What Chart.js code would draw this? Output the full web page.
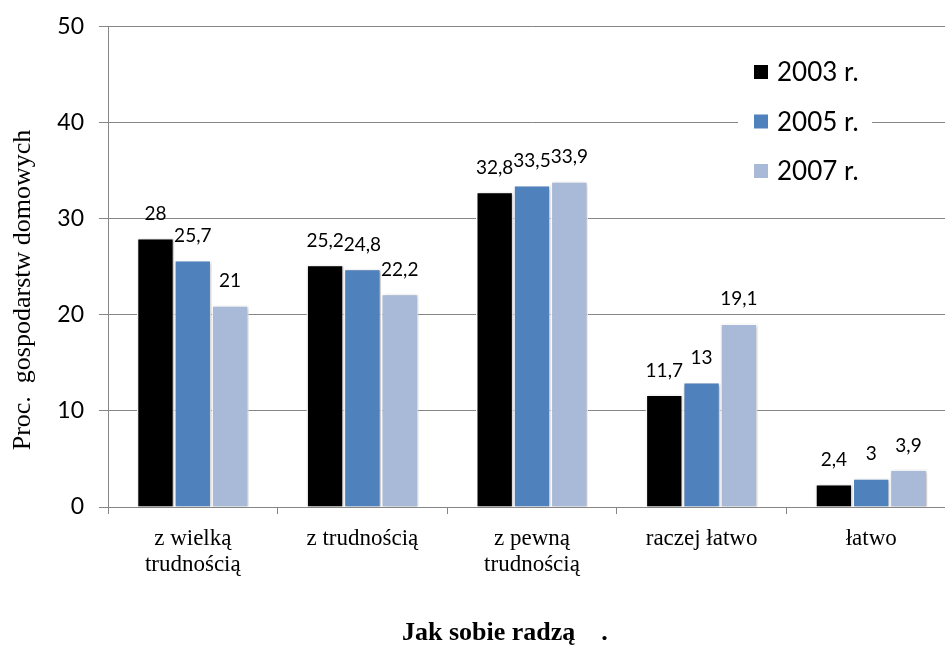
<!DOCTYPE html>
<html lang="pl">
<head>
<meta charset="utf-8">
<title>Jak sobie radzą</title>
<script src="https://cdn.jsdelivr.net/npm/chart.js@4.4.1/dist/chart.umd.min.js"></script>
<style>
    html, body { margin: 0; padding: 0; background: #fff; overflow: hidden; }
    #chart { display: block; }
</style>
</head>
<body>
<canvas id="chart" width="956" height="646"></canvas>
<script>
// Dane - odsetek gospodarstw domowych wg oceny radzenia sobie
const categories = [['z wielką', 'trudnością'], 'z trudnością', ['z pewną', 'trudnością'], 'raczej łatwo', 'łatwo'];
const years = ['2003 r.', '2005 r.', '2007 r.'];
const values2003 = [28, 25.2, 32.8, 11.7, 2.4];
const values2005 = [25.7, 24.8, 33.5, 13, 3];
const values2007 = [21, 22.2, 33.9, 19.1, 3.9];
const yTicks = [0, 10, 20, 30, 40, 50];

const colors = ['#000000', '#4f81bd', '#a9bad8'];
const gridColor = '#868686';
const sansFont = 'Lato, "Open Sans", sans-serif';
const serifFont = '"Liberation Serif", "Times New Roman", serif';

// Format liczby z przecinkiem dziesiętnym
function formatValue(v) {
    return String(v).replace('.', ',');
}

// Lekki cień pod słupkami
const barShadow = {
    id: 'barShadow',
    beforeDatasetsDraw(chart) {
        const ctx = chart.ctx;
        ctx.save();
        ctx.shadowColor = 'rgba(0, 0, 0, 0.3)';
        ctx.shadowBlur = 3;
        ctx.shadowOffsetX = 1;
        ctx.shadowOffsetY = 1;
    },
    afterDatasetsDraw(chart) {
        chart.ctx.restore();
    }
};

// Etykiety wartości nad słupkami
const valueLabels = {
    id: 'valueLabels',
    afterDatasetsDraw(chart) {
        const ctx = chart.ctx;
        ctx.save();
        ctx.font = '19px ' + sansFont;
        ctx.fillStyle = '#000';
        ctx.textAlign = 'center';
        ctx.textBaseline = 'alphabetic';
        chart.data.datasets.forEach((ds, i) => {
            chart.getDatasetMeta(i).data.forEach((bar, j) => {
                ctx.fillText(formatValue(ds.data[j]), bar.x, bar.y - 18);
            });
        });
        ctx.restore();
    }
};

// Legenda w prawym górnym rogu na białym tle
const boxLegend = {
    id: 'boxLegend',
    afterDraw(chart) {
        const ctx = chart.ctx;
        const x0 = 738, y0 = 48;
        ctx.save();
        ctx.fillStyle = '#fff';
        ctx.fillRect(x0, y0, 134, 148);
        ctx.font = '26px ' + sansFont;
        ctx.textBaseline = 'middle';
        chart.data.datasets.forEach((ds, i) => {
            const cy = 72 + i * 49.5;
            ctx.fillStyle = ds.backgroundColor;
            ctx.fillRect(754, cy - 7, 14, 14);
            ctx.fillStyle = '#000';
            ctx.fillText(ds.label, 777, cy + 1);
        });
        ctx.restore();
    }
};

// Tytuły osi
const axisTitles = {
    id: 'axisTitles',
    afterDraw(chart) {
        const ctx = chart.ctx;
        ctx.save();
        ctx.fillStyle = '#000';
        ctx.font = '26px ' + serifFont;
        ctx.textAlign = 'center';
        ctx.textBaseline = 'middle';
        ctx.translate(23, 290);
        ctx.rotate(-Math.PI / 2);
        ctx.fillText('Proc.  gospodarstw domowych', 0, 0);
        ctx.restore();

        ctx.save();
        ctx.fillStyle = '#000';
        ctx.font = 'bold 26px ' + serifFont;
        ctx.textAlign = 'left';
        ctx.textBaseline = 'alphabetic';
        ctx.fillText('Jak sobie radzą    .', 402, 640);
        ctx.restore();
    }
};

const datasets = [values2003, values2005, values2007].map((vals, i) => ({
    label: years[i],
    data: vals,
    backgroundColor: colors[i],
    borderColor: '#ffffff',
    borderWidth: 1.5,
    borderSkipped: 'bottom',
    categoryPercentage: 0.66,
    barPercentage: 1
}));

new Chart(document.getElementById('chart'), {
    type: 'bar',
    data: { labels: categories, datasets: datasets },
    options: {
        responsive: false,
        animation: false,
        layout: { padding: { top: 13, right: 0, bottom: 0, left: 0 } },
        plugins: {
            legend: { display: false },
            tooltip: { enabled: false }
        },
        scales: {
            x: {
                afterFit(scale) { scale.height = 139; },
                grid: {
                    drawOnChartArea: false,
                    drawTicks: true,
                    tickLength: 7,
                    color: gridColor
                },
                border: { display: true, color: gridColor },
                ticks: {
                    color: '#000',
                    font: { family: serifFont, size: 23, lineHeight: 1.13 },
                    padding: 12,
                    maxRotation: 0
                }
            },
            y: {
                min: 0,
                max: 50,
                afterFit(scale) { scale.width = 108; },
                afterBuildTicks(scale) {
                    scale.ticks = yTicks.map(v => ({ value: v }));
                },
                grid: {
                    color: gridColor,
                    tickLength: 9,
                    lineWidth: 1
                },
                border: { display: true, color: gridColor },
                ticks: {
                    color: '#000',
                    font: { family: sansFont, size: 23, lineHeight: 1 },
                    padding: 15
                }
            }
        }
    },
    plugins: [barShadow, valueLabels, boxLegend, axisTitles]
});
</script>
</body>
</html>
